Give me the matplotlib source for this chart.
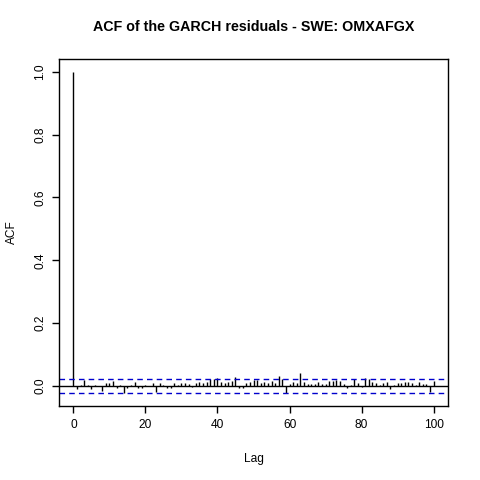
import numpy as np
import matplotlib
matplotlib.use("Agg")
import matplotlib.pyplot as plt

plt.rcParams["font.family"] = ["Liberation Sans", "DejaVu Sans"]

# ACF values, lags 0..100
lags = list(range(101))
acf_vals = [
    1.0, -0.010, 0.003, 0.019, 0.002, -0.010, 0.004, 0.001, -0.015, 0.008,
    0.008, 0.015, -0.008, 0.002, -0.023, -0.008, 0.004, 0.013, -0.008, -0.008,
    0.004, 0.001, 0.010, -0.018, 0.008, 0.002, -0.008, -0.008, 0.008, 0.002,
    0.008, 0.008, 0.006, -0.004, 0.008, 0.013, 0.008, 0.011, 0.021, 0.021,
    0.025, 0.011, 0.008, 0.011, 0.015, 0.027, -0.008, -0.008, 0.008, 0.013,
    0.019, 0.019, 0.008, 0.011, 0.008, 0.017, 0.008, 0.032, 0.021, -0.023,
    0.006, 0.011, 0.008, 0.040, 0.013, 0.006, 0.006, 0.006, 0.011, 0.006,
    0.006, 0.017, 0.015, 0.019, 0.015, 0.006, -0.006, 0.002, 0.021, 0.008,
    -0.004, 0.025, 0.023, 0.011, 0.008, 0.002, 0.008, 0.011, -0.011, 0.002,
    0.008, 0.008, 0.013, 0.013, 0.008, 0.004, 0.011, 0.006, 0.006, -0.019,
    0.015,
]
n_obs = 7800
ci = 1.96 / np.sqrt(n_obs)

fig = plt.figure(figsize=(4.8, 4.8), dpi=100)
ax = fig.add_axes([59 / 480, 1 - 406 / 480, (448 - 59) / 480, (406 - 59) / 480])

ax.vlines(lags, 0, acf_vals, color="black", linewidth=1)
ax.axhline(0, color="black", linewidth=1)
ax.axhline(ci, color="#0000cc", linewidth=1, linestyle=(0, (4, 3)))
ax.axhline(-ci, color="#0000cc", linewidth=1, linestyle=(0, (4, 3)))

# R-style 4% padding
ymin = min(min(acf_vals), -ci)
ax.set_xlim(-4, 104)
ax.set_ylim(ymin - 0.04 * (1 - ymin), 1 + 0.04 * (1 - ymin))

ax.set_xticks([0, 20, 40, 60, 80, 100])
ax.set_yticks([0.0, 0.2, 0.4, 0.6, 0.8, 1.0])
ax.set_yticklabels(["0.0", "0.2", "0.4", "0.6", "0.8", "1.0"], rotation=90, va="center")
ax.tick_params(direction="out", length=5, width=1, labelsize=8.6, pad=4)

for s in ax.spines.values():
    s.set_linewidth(1)

ax.set_xlabel("Lag", fontsize=8.6, labelpad=16)
ax.set_ylabel("ACF", fontsize=8.6, labelpad=12)
ax.set_title("ACF of the GARCH residuals - SWE: OMXAFGX", fontsize=10.3,
             fontweight="bold", pad=20)

fig.savefig("out.png", dpi=100)
